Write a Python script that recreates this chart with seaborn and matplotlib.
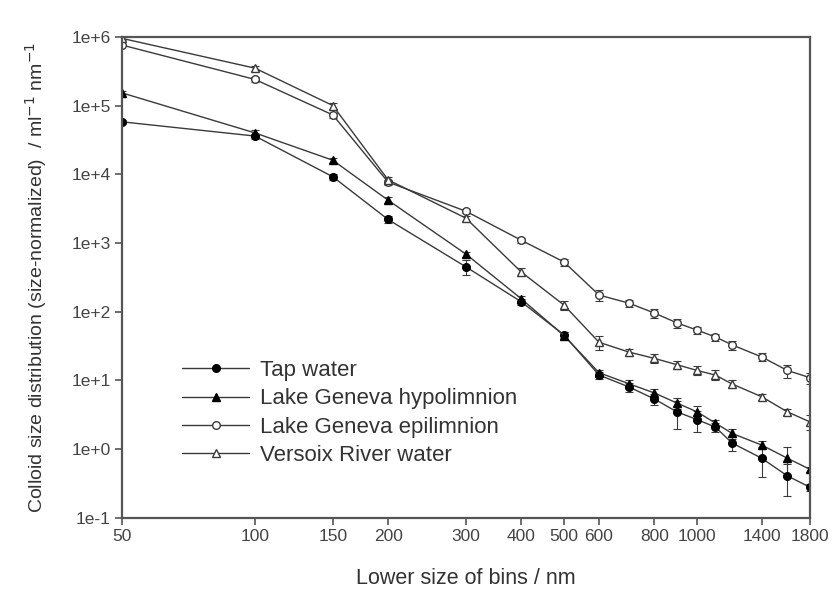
import matplotlib
matplotlib.use("Agg")
import matplotlib.pyplot as plt
import seaborn as sns
import numpy as np
import pandas as pd
from matplotlib.ticker import FixedLocator, FixedFormatter, NullLocator

sizes = [50, 100, 150, 200, 300, 400, 500, 600, 700, 800, 900, 1000, 1100, 1200, 1400, 1600, 1800]

tap = [5.8e4, 3.6e4, 9.2e3, 2.2e3, 450, 140, 46, 12, 8.1, 5.4, 3.5, 2.7, 2.1, 1.23, 0.74, 0.41, 0.28]
tap_err = [4e3, 3e3, 800, 250, 110, 15, 5, 1.5, 1.2, 1.0, 1.5, 0.9, 0.3, 0.3, 0.35, 0.2, 0.03]

hypo = [1.53e5, 4.0e4, 1.6e4, 4.2e3, 690, 155, 45, 13, 9.0, 6.6, 4.7, 3.5, 2.4, 1.7, 1.15, 0.74, 0.51]
hypo_err = [8e3, 4e3, 1.5e3, 400, 60, 15, 5, 1.2, 1.0, 0.9, 0.9, 0.7, 0.3, 0.3, 0.15, 0.33, 0.05]

epi = [7.6e5, 2.4e5, 7.3e4, 7.7e3, 2.9e3, 1.1e3, 530, 175, 134, 96, 69, 54, 43, 33, 22, 14, 11]
epi_err = [3e4, 2e4, 6e3, 600, 200, 100, 60, 30, 15, 14, 10, 6, 5, 5, 3, 3, 2]

vers = [9.5e5, 3.5e5, 1.0e5, 8.3e3, 2.3e3, 380, 125, 36, 26, 21, 17, 14, 12, 8.9, 5.8, 3.5, 2.5]
vers_err = [4e4, 3e4, 1e4, 700, 200, 50, 20, 8, 3, 3, 2.5, 2, 2, 1.2, 0.6, 0.4, 0.6]

series_names = ["Tap water", "Lake Geneva hypolimnion", "Lake Geneva epilimnion", "Versoix River water"]

xticks = [50, 100, 150, 200, 300, 400, 500, 600, 800, 1000, 1400, 1800]
xticklabels = ["50", "100", "150", "200", "300", "400", "500", "600", "800", "1000", "1400", "1800"]
yticks = [1e-1, 1e0, 1e1, 1e2, 1e3, 1e4, 1e5, 1e6]
yticklabels = ["1e-1", "1e+0", "1e+1", "1e+2", "1e+3", "1e+4", "1e+5", "1e+6"]

sns.set_theme(style="ticks")
plt.rcParams['font.family'] = ['Liberation Sans', 'DejaVu Sans']

fig = plt.figure(figsize=(8.35, 5.94), dpi=100)
ax = fig.add_axes([0.146, 0.128, 0.824, 0.810])

lc = "#3a3a3a"
styles = [
    dict(marker="o", markerfacecolor="black", markeredgecolor="black", markersize=5.5),
    dict(marker="^", markerfacecolor="black", markeredgecolor="black", markersize=5.5),
    dict(marker="o", markerfacecolor="white", markeredgecolor=lc, markersize=5.5),
    dict(marker="^", markerfacecolor="white", markeredgecolor=lc, markersize=5.5),
]
values = [tap, hypo, epi, vers]
errs = [tap_err, hypo_err, epi_err, vers_err]

for name, vals, err, st in zip(series_names, values, errs, styles):
    df = pd.DataFrame({"size": sizes, "value": vals})
    sns.lineplot(data=df, x="size", y="value", ax=ax, color=lc, linewidth=1.0,
                 label=name, markeredgewidth=1.0, **st)
    ax.errorbar(sizes, vals, yerr=err, fmt="none", ecolor=lc, elinewidth=0.8,
                capsize=3, capthick=0.8, zorder=1)

ax.set_xscale("log")
ax.set_yscale("log")
ax.set_xlim(50, 1800)
ax.set_ylim(1e-1, 1e6)

ax.xaxis.set_major_locator(FixedLocator(xticks))
ax.xaxis.set_major_formatter(FixedFormatter(xticklabels))
ax.xaxis.set_minor_locator(NullLocator())
ax.yaxis.set_major_locator(FixedLocator(yticks))
ax.yaxis.set_major_formatter(FixedFormatter(yticklabels))
ax.yaxis.set_minor_locator(NullLocator())

for sp in ax.spines.values():
    sp.set_visible(True)
    sp.set_color("#555555")
    sp.set_linewidth(1.6)

ax.tick_params(axis="both", direction="out", length=5, width=1.2, color="#555555",
               labelsize=12.5, labelcolor="#444444", pad=3)

ax.set_xlabel("Lower size of bins / nm", fontsize=15.5, color="#333333", labelpad=17)
ax.set_ylabel("Colloid size distribution (size-normalized)  / ml$^{-1}$ nm$^{-1}$",
              fontsize=14, color="#333333", labelpad=16)

leg = ax.legend(loc="upper left", bbox_to_anchor=(0.088, 0.328), frameon=False,
                fontsize=16, handlelength=3.0, labelspacing=0.33, handletextpad=0.5,
                borderaxespad=0, borderpad=0)
for t in leg.get_texts():
    t.set_color("#333333")

fig.savefig("out.png", dpi=100, facecolor="white")
